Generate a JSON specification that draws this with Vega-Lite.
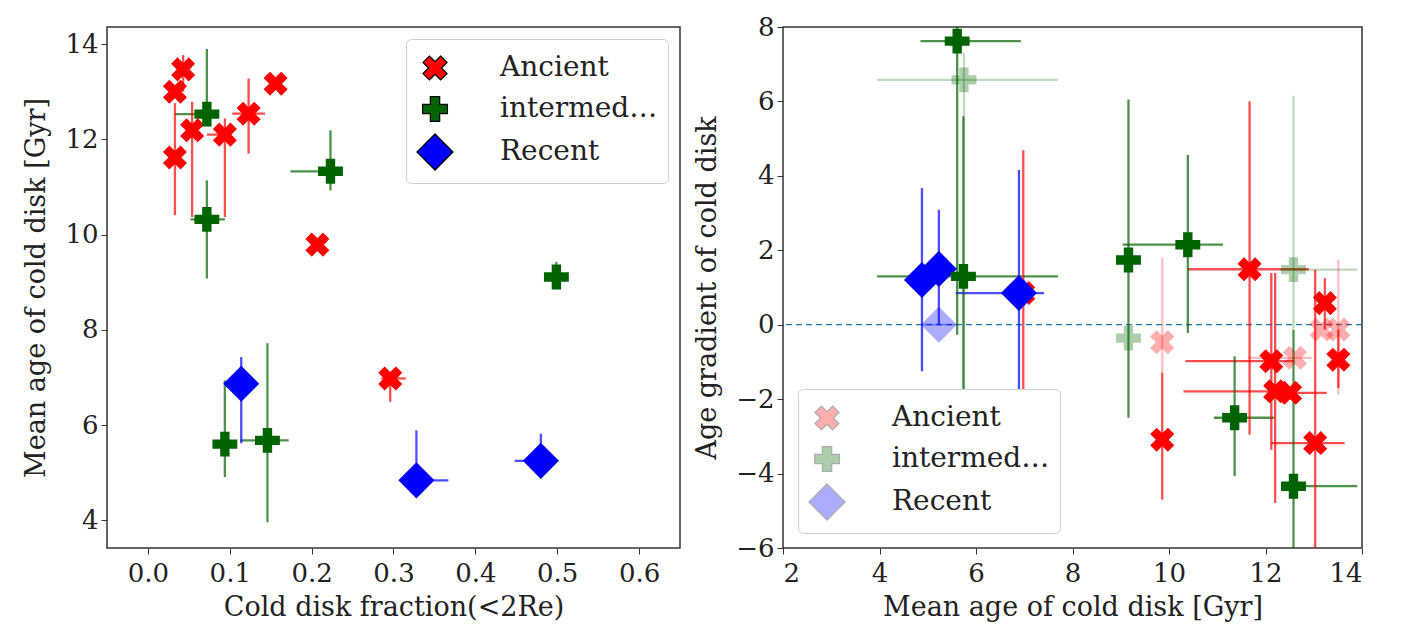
{
  "$schema": "https://vega.github.io/schema/vega-lite/v6.json",
  "background": "white",
  "padding": {"left": 22, "top": 13, "right": 10, "bottom": 5},
  "bounds": "flush",
  "spacing": 103,
  "config": {
    "font": "DejaVu Serif",
    "view": {"stroke": "#333", "strokeWidth": 1.5},
    "axis": {"labelFont": "DejaVu Serif", "titleFont": "DejaVu Serif", "labelFontSize": 26, "titleFontSize": 27, "titleFontWeight": "normal", "labelColor": "#222", "titleColor": "#222", "tickColor": "#333", "tickSize": 6, "domain": false, "grid": false, "labelPadding": 3, "titlePadding": 14},
    "axisX": {"labelPadding": 6, "titlePadding": 8},
    "legend": {"labelFont": "DejaVu Serif", "labelFontSize": 28, "labelColor": "#222", "fillColor": "white", "strokeColor": "#d0d0d0", "cornerRadius": 5, "padding": 10, "rowPadding": 7, "labelOffset": 46, "symbolSize": 1300, "symbolStrokeColor": "black", "symbolStrokeWidth": 1.2}
  },
  "datasets": {
    "left": [
      {"c": "Ancient", "s": "main", "x": 0.043, "y": 13.47, "ylo": 13.0, "yhi": 13.77},
      {"c": "Ancient", "s": "main", "x": 0.033, "y": 13.0},
      {"c": "Ancient", "s": "main", "x": 0.033, "y": 11.62, "ylo": 10.41, "yhi": 12.76},
      {"c": "Ancient", "s": "main", "x": 0.054, "y": 12.19, "ylo": 10.37, "yhi": 12.79},
      {"c": "Ancient", "s": "main", "x": 0.094, "y": 12.1, "xlo": 0.072, "xhi": 0.094, "ylo": 10.37, "yhi": 12.44},
      {"c": "Ancient", "s": "main", "x": 0.123, "y": 12.54, "xlo": 0.103, "xhi": 0.143, "ylo": 11.7, "yhi": 13.28},
      {"c": "Ancient", "s": "main", "x": 0.156, "y": 13.17},
      {"c": "Ancient", "s": "main", "x": 0.207, "y": 9.79},
      {"c": "Ancient", "s": "main", "x": 0.296, "y": 6.98, "xlo": 0.285, "xhi": 0.315, "ylo": 6.49, "yhi": 7.05},
      {"c": "Recent", "s": "main", "x": 0.114, "y": 6.87, "ylo": 5.62, "yhi": 7.43},
      {"c": "Recent", "s": "main", "x": 0.328, "y": 4.84, "xlo": 0.328, "xhi": 0.367, "ylo": 4.7, "yhi": 5.89},
      {"c": "Recent", "s": "main", "x": 0.48, "y": 5.25, "xlo": 0.448, "xhi": 0.48, "ylo": 5.2, "yhi": 5.82},
      {"c": "intermediate", "s": "main", "x": 0.072, "y": 12.53, "xlo": 0.033, "xhi": 0.072, "ylo": 12.3, "yhi": 13.9},
      {"c": "intermediate", "s": "main", "x": 0.072, "y": 10.32, "xlo": 0.052, "xhi": 0.094, "ylo": 9.08, "yhi": 11.14},
      {"c": "intermediate", "s": "main", "x": 0.223, "y": 11.33, "xlo": 0.174, "xhi": 0.225, "ylo": 10.93, "yhi": 12.19},
      {"c": "intermediate", "s": "main", "x": 0.499, "y": 9.11, "ylo": 8.95, "yhi": 9.43},
      {"c": "intermediate", "s": "main", "x": 0.094, "y": 5.6, "ylo": 4.91, "yhi": 6.94},
      {"c": "intermediate", "s": "main", "x": 0.146, "y": 5.68, "xlo": 0.113, "xhi": 0.172, "ylo": 3.96, "yhi": 7.72}
    ],
    "right": [
      {"c": "Ancient", "s": "main", "x": 6.98, "y": 0.85, "ylo": -2.9, "yhi": 4.69},
      {"c": "Ancient", "s": "main", "x": 9.86, "y": -3.09, "ylo": -4.7, "yhi": -1.29},
      {"c": "Ancient", "s": "main", "x": 11.67, "y": 1.49, "xlo": 10.39, "xhi": 12.9, "ylo": -2.95, "yhi": 6.0},
      {"c": "Ancient", "s": "main", "x": 12.12, "y": -0.98, "xlo": 10.34, "xhi": 12.6, "ylo": -3.36, "yhi": 1.39},
      {"c": "Ancient", "s": "main", "x": 12.2, "y": -1.79, "xlo": 10.3, "xhi": 12.6, "ylo": -4.79, "yhi": 1.39},
      {"c": "Ancient", "s": "main", "x": 12.51, "y": -1.83, "xlo": 12.2, "xhi": 13.27},
      {"c": "Ancient", "s": "main", "x": 13.03, "y": -3.18, "xlo": 12.12, "xhi": 13.64, "ylo": -6.0, "yhi": 1.48},
      {"c": "Ancient", "s": "main", "x": 13.23, "y": 0.58, "ylo": -0.13, "yhi": 1.25},
      {"c": "Ancient", "s": "main", "x": 13.51, "y": -0.94, "ylo": -1.7, "yhi": -0.13},
      {"c": "Ancient", "s": "faded", "x": 9.86, "y": -0.47, "ylo": -1.29, "yhi": 1.8},
      {"c": "Ancient", "s": "faded", "x": 12.61, "y": -0.89, "xlo": 11.64, "xhi": 12.96},
      {"c": "Ancient", "s": "faded", "x": 13.16, "y": -0.13},
      {"c": "Ancient", "s": "faded", "x": 13.51, "y": -0.13, "ylo": -1.88, "yhi": 1.74},
      {"c": "Recent", "s": "faded", "x": 5.23, "y": 0.0, "xlo": 4.88, "xhi": 5.6},
      {"c": "Recent", "s": "main", "x": 4.88, "y": 1.2, "ylo": -1.25, "yhi": 3.67},
      {"c": "Recent", "s": "main", "x": 5.23, "y": 1.5, "xlo": 5.23, "xhi": 5.6, "ylo": 0.0, "yhi": 3.09},
      {"c": "Recent", "s": "main", "x": 6.89, "y": 0.85, "xlo": 5.58, "xhi": 7.41, "ylo": -1.83, "yhi": 4.16},
      {"c": "intermediate", "s": "faded", "x": 5.75, "y": 6.58, "xlo": 3.95, "xhi": 7.7, "ylo": -3.0, "yhi": 7.3},
      {"c": "intermediate", "s": "faded", "x": 9.16, "y": -0.36},
      {"c": "intermediate", "s": "faded", "x": 12.58, "y": 1.48, "xlo": 12.3, "xhi": 13.9, "ylo": -0.1, "yhi": 6.15},
      {"c": "intermediate", "s": "main", "x": 5.61, "y": 7.62, "xlo": 4.85, "xhi": 6.93, "ylo": -0.27, "yhi": 8.0},
      {"c": "intermediate", "s": "main", "x": 5.74, "y": 1.3, "xlo": 3.95, "xhi": 7.7, "ylo": -1.88, "yhi": 5.6},
      {"c": "intermediate", "s": "main", "x": 9.16, "y": 1.74, "ylo": -2.5, "yhi": 6.05},
      {"c": "intermediate", "s": "main", "x": 10.39, "y": 2.15, "xlo": 9.04, "xhi": 11.12, "ylo": -0.22, "yhi": 4.56},
      {"c": "intermediate", "s": "main", "x": 11.36, "y": -2.5, "xlo": 10.93, "xhi": 12.18, "ylo": -4.07, "yhi": -0.85},
      {"c": "intermediate", "s": "main", "x": 12.58, "y": -4.34, "xlo": 12.58, "xhi": 13.9, "ylo": -6.0, "yhi": -0.13}
    ]
  },
  "resolve": {
    "scale": {"x": "independent", "y": "independent", "color": "independent", "stroke": "independent", "shape": "independent", "strokeOpacity": "independent"},
    "legend": {"color": "independent", "shape": "independent"}
  },
  "hconcat": [
    {
      "width": 573,
      "height": 521,
      "data": {"name": "left"},
      "layer": [
        {
          "transform": [{"filter": "isValid(datum.xlo)"}],
          "mark": {"type": "rule", "strokeWidth": 2.3, "clip": true},
          "encoding": {
            "x": {"field": "xlo", "type": "quantitative", "title": "Cold disk fraction(<2Re)", "scale": {"domain": [-0.05, 0.65], "nice": false, "zero": false}, "axis": {"values": [0, 0.1, 0.2, 0.3, 0.4, 0.5, 0.6], "format": ".1f"}},
            "x2": {"field": "xhi"},
            "y": {"field": "y", "type": "quantitative", "title": "Mean age of cold disk [Gyr]", "scale": {"domain": [3.42, 14.36], "nice": false, "zero": false}, "axis": {"values": [4, 6, 8, 10, 12, 14]}},
            "stroke": {"field": "c", "type": "nominal", "scale": {"domain": ["Recent", "Ancient", "intermediate"], "range": ["#0000ff", "#ff0000", "#006400"]}, "legend": null},
            "strokeOpacity": {"field": "s", "type": "nominal", "scale": {"domain": ["main", "faded"], "range": [0.7, 0.25]}, "legend": null}
          }
        },
        {
          "transform": [{"filter": "isValid(datum.ylo)"}],
          "mark": {"type": "rule", "strokeWidth": 2.3, "clip": true},
          "encoding": {
            "x": {"field": "x", "type": "quantitative", "title": "Cold disk fraction(<2Re)"},
            "y": {"field": "ylo", "type": "quantitative", "title": "Mean age of cold disk [Gyr]"},
            "y2": {"field": "yhi"},
            "stroke": {"field": "c", "type": "nominal", "legend": null},
            "strokeOpacity": {"field": "s", "type": "nominal", "legend": null}
          }
        },
        {
          "mark": {"type": "point", "filled": true, "strokeWidth": 0, "opacity": 1, "size": 1300},
          "encoding": {
            "x": {"field": "x", "type": "quantitative", "title": "Cold disk fraction(<2Re)"},
            "y": {"field": "y", "type": "quantitative", "title": "Mean age of cold disk [Gyr]"},
            "color": {"field": "c", "type": "nominal", "scale": {"domain": ["Ancient", "intermediate", "Recent"], "range": ["#ff0000", "#006400", "#0000ff"]}, "legend": {"orient": "top-right", "offset": 12, "title": null, "encode": {"symbols": {"update": {"stroke": {"value": "black"}, "strokeWidth": {"value": 1.2}, "opacity": {"value": 1}}}}}},
            "shape": {"field": "c", "type": "nominal", "scale": {"domain": ["Ancient", "intermediate", "Recent"], "range": ["M0.31,-0.667L0.667,-0.31L0.356,0L0.667,0.31L0.31,0.667L0,0.356L-0.31,0.667L-0.667,0.31L-0.356,0L-0.667,-0.31L-0.31,-0.667L0,-0.356Z", "M-0.26,-0.69L0.26,-0.69L0.26,-0.26L0.69,-0.26L0.69,0.26L0.26,0.26L0.26,0.69L-0.26,0.69L-0.26,0.26L-0.69,0.26L-0.69,-0.26L-0.26,-0.26Z", "M0,-1L1,0L0,1L-1,0Z"]}, "legend": {"orient": "top-right", "offset": 12, "title": null}}
          }
        }
      ]
    },
    {
      "width": 579,
      "height": 521,
      "data": {"name": "right"},
      "layer": [
        {
          "data": {"values": [{}]},
          "mark": {"type": "rule", "strokeDash": [6, 4], "color": "#1f77b4", "strokeWidth": 1.3},
          "encoding": {"y": {"datum": 0, "type": "quantitative", "title": "Age gradient of cold disk", "scale": {"domain": [-6, 8], "nice": false, "zero": false}, "axis": {"values": [-6, -4, -2, 0, 2, 4, 6, 8]}}}
        },
        {
          "transform": [{"filter": "isValid(datum.xlo)"}],
          "mark": {"type": "rule", "strokeWidth": 2.3, "clip": true},
          "encoding": {
            "x": {"field": "xlo", "type": "quantitative", "title": "Mean age of cold disk [Gyr]", "scale": {"domain": [2, 14], "nice": false, "zero": false}, "axis": {"values": [2, 4, 6, 8, 10, 12, 14]}},
            "x2": {"field": "xhi"},
            "y": {"field": "y", "type": "quantitative", "title": "Age gradient of cold disk"},
            "stroke": {"field": "c", "type": "nominal", "scale": {"domain": ["Recent", "Ancient", "intermediate"], "range": ["#0000ff", "#ff0000", "#006400"]}, "legend": null},
            "strokeOpacity": {"field": "s", "type": "nominal", "scale": {"domain": ["main", "faded"], "range": [0.7, 0.25]}, "legend": null}
          }
        },
        {
          "transform": [{"filter": "isValid(datum.ylo)"}],
          "mark": {"type": "rule", "strokeWidth": 2.3, "clip": true},
          "encoding": {
            "x": {"field": "x", "type": "quantitative", "title": "Mean age of cold disk [Gyr]"},
            "y": {"field": "ylo", "type": "quantitative", "title": "Age gradient of cold disk"},
            "y2": {"field": "yhi"},
            "stroke": {"field": "c", "type": "nominal", "legend": null},
            "strokeOpacity": {"field": "s", "type": "nominal", "legend": null}
          }
        },
        {
          "transform": [{"filter": "datum.s == 'faded'"}],
          "mark": {"type": "point", "filled": true, "strokeWidth": 0, "opacity": 0.32, "size": 1300},
          "encoding": {
            "x": {"field": "x", "type": "quantitative", "title": "Mean age of cold disk [Gyr]"},
            "y": {"field": "y", "type": "quantitative", "title": "Age gradient of cold disk"},
            "color": {"field": "c", "type": "nominal", "scale": {"domain": ["Ancient", "intermediate", "Recent"], "range": ["#ff0000", "#006400", "#0000ff"]}, "legend": {"orient": "bottom-left", "offset": 15, "title": null, "encode": {"symbols": {"update": {"stroke": {"value": "black"}, "strokeWidth": {"value": 1.2}, "opacity": {"value": 1}}}}}},
            "shape": {"field": "c", "type": "nominal", "scale": {"domain": ["Ancient", "intermediate", "Recent"], "range": ["M0.31,-0.667L0.667,-0.31L0.356,0L0.667,0.31L0.31,0.667L0,0.356L-0.31,0.667L-0.667,0.31L-0.356,0L-0.667,-0.31L-0.31,-0.667L0,-0.356Z", "M-0.26,-0.69L0.26,-0.69L0.26,-0.26L0.69,-0.26L0.69,0.26L0.26,0.26L0.26,0.69L-0.26,0.69L-0.26,0.26L-0.69,0.26L-0.69,-0.26L-0.26,-0.26Z", "M0,-1L1,0L0,1L-1,0Z"]}, "legend": {"orient": "bottom-left", "offset": 15, "title": null}}
          }
        },
        {
          "transform": [{"filter": "datum.s == 'main'"}],
          "mark": {"type": "point", "filled": true, "strokeWidth": 0, "opacity": 1, "size": 1300},
          "encoding": {
            "x": {"field": "x", "type": "quantitative", "title": "Mean age of cold disk [Gyr]"},
            "y": {"field": "y", "type": "quantitative", "title": "Age gradient of cold disk"},
            "color": {"field": "c", "type": "nominal", "legend": {"orient": "bottom-left", "offset": 15, "title": null}},
            "shape": {"field": "c", "type": "nominal", "legend": {"orient": "bottom-left", "offset": 15, "title": null}}
          }
        }
      ]
    }
  ]
}
